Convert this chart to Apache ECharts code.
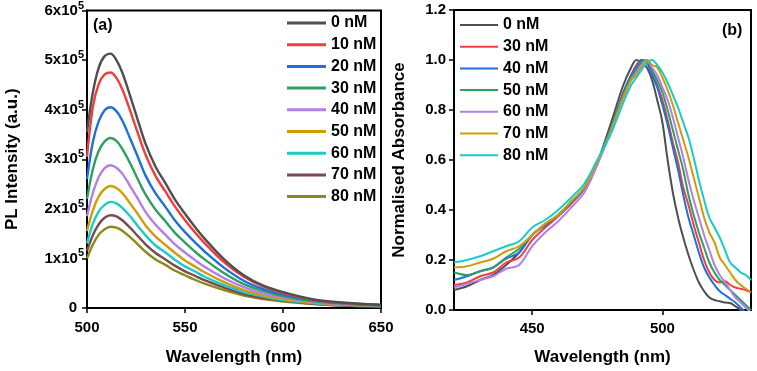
<!DOCTYPE html>
<html><head><meta charset="utf-8">
<script src="https://cdn.jsdelivr.net/npm/echarts@6/dist/echarts.min.js"></script>
<style>html,body{margin:0;padding:0;background:#fff}#c{width:757px;height:371px}</style>
</head><body><div id="c"></div>
<script>
// ---------- Panel (a): PL spectra ----------
const PL_SCALE = 1e5;
const PL_WL = [500,503,506,509,512,515,518,522,526,530,535,540,545,550,555,560,570,580,590,600,615,630,650];
const PL_NAMES = ['0 nM','10 nM','20 nM','30 nM','40 nM','50 nM','60 nM','70 nM','80 nM'];
const pl0  = [3.55,4.35,4.85,5.08,5.13,5.00,4.75,4.28,3.78,3.30,2.85,2.52,2.18,1.90,1.64,1.40,0.98,0.66,0.45,0.32,0.18,0.11,0.06];
const pl10 = [3.05,4.06,4.52,4.71,4.75,4.64,4.41,3.98,3.52,3.08,2.66,2.35,2.04,1.77,1.53,1.31,0.92,0.63,0.43,0.30,0.17,0.10,0.06];
const pl20 = [2.60,3.35,3.77,3.99,4.05,3.97,3.78,3.42,3.04,2.66,2.31,2.04,1.76,1.53,1.33,1.14,0.81,0.55,0.38,0.27,0.16,0.10,0.06];
const pl30 = [2.20,2.80,3.17,3.36,3.43,3.37,3.21,2.92,2.59,2.28,1.98,1.75,1.51,1.32,1.14,0.98,0.70,0.48,0.34,0.24,0.14,0.09,0.05];
const pl40 = [1.85,2.32,2.64,2.82,2.88,2.83,2.71,2.46,2.20,1.93,1.68,1.48,1.28,1.12,0.97,0.83,0.60,0.42,0.29,0.21,0.13,0.08,0.05];
const pl50 = [1.55,1.97,2.25,2.40,2.46,2.42,2.32,2.11,1.89,1.66,1.44,1.27,1.11,0.96,0.84,0.72,0.52,0.36,0.25,0.18,0.11,0.07,0.04];
const pl60 = [1.30,1.70,1.95,2.08,2.14,2.11,2.02,1.85,1.65,1.46,1.26,1.12,0.97,0.84,0.74,0.63,0.46,0.32,0.23,0.16,0.10,0.06,0.04];
const pl70 = [1.15,1.47,1.69,1.82,1.87,1.85,1.77,1.62,1.45,1.28,1.11,0.98,0.85,0.74,0.65,0.56,0.41,0.28,0.20,0.15,0.09,0.05,0.03];
const pl80 = [1.00,1.28,1.48,1.59,1.64,1.62,1.56,1.43,1.28,1.13,0.98,0.87,0.75,0.66,0.57,0.49,0.36,0.25,0.18,0.13,0.08,0.05,0.03];
const PL_COLORS = ['#4f4f4f','#f23d3d','#1f6fdc','#2e9e62','#b27ee8','#d29b08','#1ccaca','#7b4a4f','#8a8a1c'];
const PL_TICKS_X = [500,550,600,650];

// ---------- Panel (b): normalised absorbance ----------
const AB_WL = [420,425,430,435,440,445,450,455,460,465,470,475,480,485,488,490,492,494,496,498,500,502,504,506,508,510,512,514,516,518,520,522,524,526,528,530,532,534];
const AB_NAMES = ['0 nM','30 nM','40 nM','50 nM','60 nM','70 nM','80 nM'];
const ab0  = [.08,.095,.12,.14,.18,.23,.30,.34,.38,.43,.49,.59,.74,.90,.97,1.0,.99, .97,.92,.84,.75,.60,.47,.37,.29,.22,.16,.11,.075,.05,.04,.035,.03,.028,.015,0,-.02,-.04];
const ab30 = [.10,.11,.135,.15,.19,.21,.28,.33,.375,.425,.485,.59,.72,.87,.94,.98,1.0, .99,.95,.90,.84,.76,.67,.59,.49,.42,.34,.27,.20,.15,.12,.11,.115,.10,.09,.085,.08,.07];
const ab40 = [.12,.135,.155,.17,.205,.23,.30,.34,.38,.43,.485,.59,.72,.87,.94,.97,1.0, .99,.94,.89,.82,.74,.65,.56,.46,.37,.30,.23,.17,.13,.10,.075,.06,.045,.03,.01,-.01,-.03];
const ab50 = [.15,.14,.155,.17,.21,.245,.30,.345,.38,.435,.49,.59,.72,.86,.93,.96,.99, 1.0,.96,.92,.87,.80,.72,.64,.56,.46,.38,.31,.25,.19,.15,.12,.10,.08,.06,.04,.02,0];
const ab60 = [.09,.105,.12,.135,.165,.18,.255,.31,.355,.41,.47,.58,.71,.85,.92,.95,.98, 1.0,.97,.94,.89,.84,.77,.69,.61,.52,.44,.37,.30,.24,.18,.14,.11,.08,.05,.03,.01,-.01];
const ab70 = [.17,.175,.19,.205,.235,.255,.30,.345,.38,.435,.49,.59,.71,.85,.92,.94,.97, 1.0,.98,.97,.93,.88,.82,.75,.68,.61,.53,.45,.37,.31,.27,.21,.18,.15,.12,.10,.085,.07];
const ab80 = [.19,.20,.215,.235,.255,.275,.33,.36,.40,.45,.505,.60,.70,.83,.90,.93,.96, .99,1.0,.98,.95,.91,.86,.81,.75,.69,.61,.52,.44,.37,.33,.29,.24,.19,.17,.15,.14,.12];
const AB_COLORS = ['#4f4f4f','#f23d3d','#1f6fdc','#2e9e62','#b27ee8','#d29b08','#1ccaca'];
const AB_TICKS_X = [450,500];

const FONT = 'Arial, "Liberation Sans", sans-serif';
const plSeries = [pl0,pl10,pl20,pl30,pl40,pl50,pl60,pl70,pl80];
const abSeries = [ab0,ab30,ab40,ab50,ab60,ab70,ab80];

const series = [];
plSeries.forEach((arr,i)=>{
  series.push({name:'a:'+PL_NAMES[i], type:'line', xAxisIndex:0, yAxisIndex:0, smooth:0.35, symbol:'none',
    lineStyle:{width:2.4,color:PL_COLORS[i]}, itemStyle:{color:PL_COLORS[i]},
    data: arr.map((v,k)=>[PL_WL[k], v*PL_SCALE]), z: 10-i});
});
abSeries.forEach((arr,i)=>{
  series.push({name:'b:'+AB_NAMES[i], type:'line', xAxisIndex:1, yAxisIndex:1, smooth:0.35, symbol:'none',
    lineStyle:{width:2,color:AB_COLORS[i]}, itemStyle:{color:AB_COLORS[i]},
    data: arr.map((v,k)=>[AB_WL[k], v]), z: 2+i});
});

const axLine = {show:true, lineStyle:{color:'#000', width:2}};
const tick = {show:true, inside:false, length:5, lineStyle:{color:'#000', width:1.5}};
const lab = {color:'#000', fontFamily:FONT, fontWeight:'bold', fontSize:15};
const nameStyle = {color:'#000', fontFamily:FONT, fontWeight:'bold', fontSize:17};

const option = {
  animation:false,
  backgroundColor:'#fff',
  grid:[
    {left:87, top:10, width:294, height:303, show:true, borderColor:'#000', borderWidth:2, containLabel:false},
    {left:454, top:10, width:297, height:305, show:true, borderColor:'#000', borderWidth:2, containLabel:false}
  ],
  xAxis:[
    {type:'value', gridIndex:0, min:500, max:650, interval:50, name:'Wavelength (nm)', nameLocation:'middle', nameGap:41,
     nameTextStyle:nameStyle, axisLine:axLine, axisTick:tick, splitLine:{show:false},
     axisLabel:Object.assign({margin:12, customValues:PL_TICKS_X}, lab)},
    {type:'value', gridIndex:1, min:420, max:534, name:'Wavelength (nm)', nameLocation:'middle', nameGap:39,
     nameTextStyle:nameStyle, axisLine:axLine, axisTick:Object.assign({customValues:AB_TICKS_X}, tick), splitLine:{show:false},
     axisLabel:Object.assign({margin:11, customValues:AB_TICKS_X}, lab)}
  ],
  yAxis:[
    {type:'value', gridIndex:0, min:0, max:6e5, interval:1e5, name:'PL Intensity (a.u.)', nameLocation:'middle', nameGap:66,
     nameTextStyle:nameStyle, axisLine:axLine, axisTick:tick, splitLine:{show:false},
     axisLabel:Object.assign({margin:3, formatter:(v)=> v===0 ? '{z|0}' : '{m|'+(v/PL_SCALE)+'x10}{s|5}',
       rich:{z:Object.assign({padding:[0,7,0,0]},lab), m:lab, s:{color:'#000', fontFamily:FONT, fontWeight:'bold', fontSize:11, padding:[0,0,10,0]}}}, lab)},
    {type:'value', gridIndex:1, min:0, max:1.2, interval:0.2, name:'Normalised Absorbance', nameLocation:'middle', nameGap:46,
     nameTextStyle:nameStyle, axisLine:axLine, axisTick:tick, splitLine:{show:false},
     axisLabel:Object.assign({margin:8, formatter:(v)=>v.toFixed(1)}, lab)}
  ],
  legend:[
    {orient:'vertical', left:287, top:15, padding:0, itemWidth:39, itemHeight:3, itemGap:5.7, icon:'rect',
     data: PL_NAMES.map(n=>'a:'+n), formatter:(n)=>n.slice(2),
     textStyle:{color:'#000', fontFamily:FONT, fontWeight:'bold', fontSize:16, lineHeight:16}},
    {orient:'vertical', left:460, top:17, padding:0, itemWidth:38, itemHeight:2, itemGap:5.7, icon:'rect',
     data: AB_NAMES.map(n=>'b:'+n), formatter:(n)=>n.slice(2),
     textStyle:{color:'#000', fontFamily:FONT, fontWeight:'bold', fontSize:16, lineHeight:16}}
  ],
  graphic:[
    {type:'text', left:93, top:18, style:{text:'(a)', fill:'#000', font:'bold 16px '+FONT}},
    {type:'text', left:722, top:23, style:{text:'(b)', fill:'#000', font:'bold 16px '+FONT}}
  ],
  series: series
};
const chart = echarts.init(document.getElementById('c'), null, {renderer:'canvas'});
chart.setOption(option);
</script></body></html>
